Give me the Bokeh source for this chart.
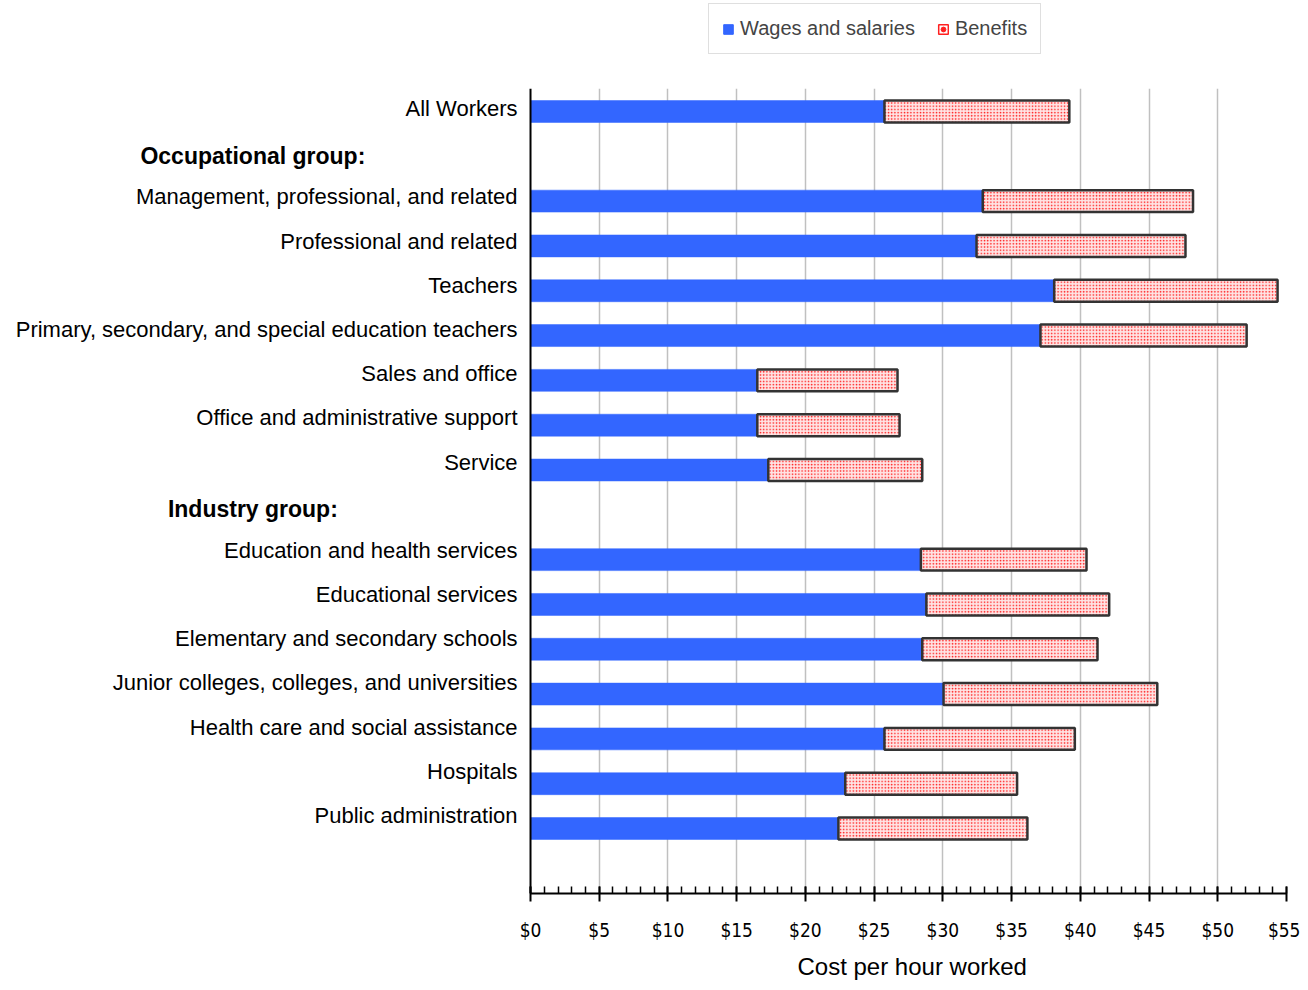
from bokeh.plotting import figure
from bokeh.layouts import column
from bokeh.models import (Range1d, FixedTicker, NumeralTickFormatter, Legend, LegendItem,
                          ColumnDataSource, Span, Title)
from bokeh.core.properties import value
from bokeh.embed import file_html
from bokeh.resources import INLINE

# ---- data ----
categories = ["All Workers", "Occupational group:", "Management, professional, and related",
              "Professional and related", "Teachers",
              "Primary, secondary, and special education teachers", "Sales and office",
              "Office and administrative support", "Service", "Industry group:",
              "Education and health services", "Educational services",
              "Elementary and secondary schools", "Junior colleges, colleges, and universities",
              "Health care and social assistance", "Hospitals", "Public administration"]
headers = ["Occupational group:", "Industry group:"]
wages = [25.75, None, 32.9, 32.45, 38.1, 37.1, 16.5, 16.5, 17.3, None,
         28.4, 28.8, 28.5, 30.05, 25.75, 22.9, 22.4]
benefits = [13.45, None, 15.3, 15.2, 16.25, 15.0, 10.2, 10.35, 11.2, None,
            12.05, 13.3, 12.75, 15.55, 13.85, 12.5, 13.75]
x_ticks = [0, 5, 10, 15, 20, 25, 30, 35, 40, 45, 50, 55]
series_names = ["Wages and salaries", "Benefits"]

FONT = "Liberation Sans"
NARROW = "DejaVu Sans Condensed, Liberation Sans"
HEADER_X = -20.2      # centre of the header text column (in $ units, left of the axis)
LEFT_EXTENT = -38.56  # frame extends left to hold the category labels

WAGE_COLOR = "#3366FF"
BEN_FILL = "#ffe4e4"
BEN_HATCH = "#ff1a1a"

rows = [i for i, c in enumerate(categories) if c not in headers]
hrows = [i for i, c in enumerate(categories) if c in headers]
src = ColumnDataSource(dict(
    y=rows,
    w=[wages[i] for i in rows],
    b0=[wages[i] for i in rows],
    b1=[wages[i] + benefits[i] for i in rows],
    zero=[0] * len(rows),
    name=[categories[i] for i in rows],
))
hsrc = ColumnDataSource(dict(y=hrows, x=[HEADER_X] * len(hrows),
                             name=[categories[i] for i in hrows]))

# ---------------- legend strip ----------------
lg = figure(width=1300, height=88, output_backend="svg", toolbar_location=None,
            x_range=Range1d(0, 1), y_range=Range1d(0, 1),
            x_axis_type=None, y_axis_type=None, min_border=0)
lg.outline_line_color = None
lg.xgrid.visible = False
lg.ygrid.visible = False
nan = float("nan")
dsrc = ColumnDataSource(dict(x=[nan], y=[nan]))
l_w = lg.rect(x="x", y="y", width=1, height=1, source=dsrc,
              fill_color=WAGE_COLOR, line_color=WAGE_COLOR)
l_b = lg.rect(x="x", y="y", width=1, height=1, source=dsrc,
              fill_color="white", line_color="#ff2020", line_width=1.5)
l_d = lg.scatter(x="x", y="y", marker="circle", size=2, source=dsrc,
                 fill_color="#ff2020", line_color="#ff2020")
legend = Legend(items=[LegendItem(label=series_names[0], renderers=[l_w]),
                       LegendItem(label=series_names[1], renderers=[l_b, l_d])],
                orientation="horizontal", location=(708, 34),
                label_text_font=FONT, label_text_font_size="20px",
                glyph_width=12, glyph_height=12, label_standoff=6, spacing=22,
                padding=13, margin=0, border_line_color="#c0c0c0", border_line_width=1.5,
                background_fill_color="white")
lg.add_layout(legend, "center")

# ---------------- main chart ----------------
p = figure(width=1300, height=900, output_backend="svg", toolbar_location=None,
           x_range=Range1d(LEFT_EXTENT, 55), y_range=Range1d(17.45, -0.513),
           min_border_left=0, min_border_right=14, min_border_top=0, min_border_bottom=95)
p.outline_line_color = None
p.background_fill_color = "white"
p.border_fill_color = "white"
p.yaxis.visible = False

# label range (category labels are spaced slightly tighter than bars)
p.extra_y_ranges = {"labels": Range1d(17.764, -0.4526)}

p.xgrid.grid_line_color = "#c0c0c0"
p.xgrid.grid_line_width = 1.5
p.xgrid.ticker = FixedTicker(ticks=x_ticks[1:])
p.ygrid.grid_line_color = None

p.hbar(y="y", left=0, right="w", height=0.49, source=src,
       fill_color=WAGE_COLOR, line_color=WAGE_COLOR, line_width=0.5)
p.hbar(y="y", left="b0", right="b1", height=0.49, source=src,
       fill_color=BEN_FILL, hatch_pattern="dot", hatch_color=BEN_HATCH,
       hatch_scale=3.2, hatch_weight=1.6,
       line_color="#333333", line_width=2.5)

# y axis line
p.add_layout(Span(location=0, dimension="height", line_color="black", line_width=2))

# category labels and headers
p.text(x="zero", y="y", text="name", source=src, y_range_name="labels",
       x_offset=-13, text_align="right", text_baseline="middle",
       text_font=value(FONT), text_font_size="22px", text_color="black")
p.text(x="x", y="y", text="name", source=hsrc, y_range_name="labels",
       y_offset=3, text_align="center", text_baseline="middle",
       text_font=value(FONT), text_font_style="bold", text_font_size="23px",
       text_color="black")

xa = p.xaxis[0]
xa.bounds = (0, 55)
xa.ticker = FixedTicker(ticks=x_ticks, minor_ticks=list(range(0, 56)))
xa.formatter = NumeralTickFormatter(format="$0")
xa.axis_line_color = "black"
xa.axis_line_width = 2
xa.major_tick_line_color = "black"
xa.major_tick_line_width = 2
xa.major_tick_in = 7
xa.major_tick_out = 8
xa.minor_tick_line_color = "black"
xa.minor_tick_line_width = 1.5
xa.minor_tick_in = 7
xa.minor_tick_out = 0
xa.major_label_text_font = NARROW
xa.major_label_text_font_size = "19px"
xa.major_label_text_color = "black"
xa.major_label_standoff = 17

# axis title, placed under the $0-$55 part of the axis
p.add_layout(Title(text="Cost per hour worked", align="left", offset=797,
                   text_font=FONT, text_font_size="24px", text_font_style="normal",
                   text_color="black", standoff=14), "below")

open("out.html", "w").write(file_html(column(lg, p, spacing=0), INLINE))
